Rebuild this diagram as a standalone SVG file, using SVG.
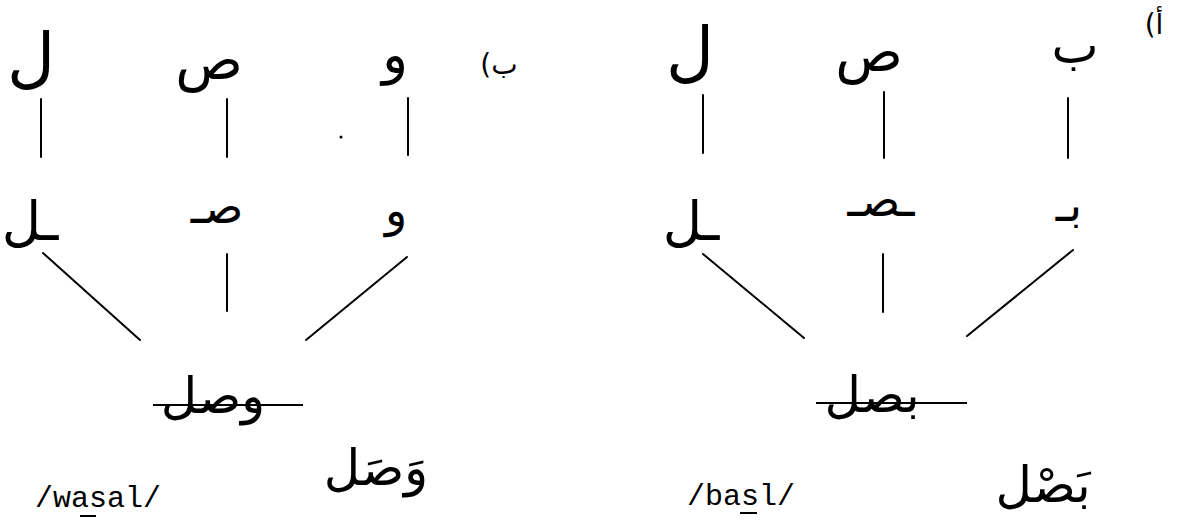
<svg xmlns="http://www.w3.org/2000/svg" width="1178" height="524" viewBox="0 0 1178 524">
<style>
.ar{font-family:"DejaVu Sans",sans-serif;fill:#000;text-anchor:middle}
.tl{font-size:66px}
.ts{font-size:56px}
.tw{font-size:54px}
.tb{font-size:50px}
.ml{font-size:54px}
.mid{font-size:46px}
.word{font-size:50px}
.lab{font-size:28px;direction:ltr;unicode-bidi:bidi-override}
.tr{font-family:"Liberation Mono","Courier New",monospace;font-size:30px;fill:#000}
.c line{stroke:#000;stroke-width:2;stroke-linecap:round}
.u{stroke:#000;stroke-width:2}
</style>
<rect width="1178" height="524" fill="#fff"/>
<g class="c" id="connectors">
<line x1="41" y1="99" x2="41" y2="157"/>
<line x1="227" y1="99" x2="227" y2="157"/>
<line x1="408" y1="98" x2="408" y2="155"/>
<line x1="43" y1="253" x2="140" y2="340"/>
<line x1="227" y1="254" x2="227" y2="311"/>
<line x1="407" y1="257" x2="306" y2="340"/>
<line x1="703" y1="95" x2="703" y2="153"/>
<line x1="884" y1="92" x2="884" y2="158"/>
<line x1="1068" y1="98" x2="1068" y2="158"/>
<line x1="703" y1="254" x2="804" y2="338"/>
<line x1="883" y1="254" x2="883" y2="312"/>
<line x1="1073" y1="250" x2="967" y2="336"/>
</g>
<circle cx="341" cy="137" r="1.5" fill="#000"/>
<g id="label-b"><text class="ar lab" x="499" y="74">(ب</text></g>
<g id="label-a"><text class="ar lab" x="1154" y="34">(أ</text></g>
<g id="b-top-l"><text class="ar tl" x="31" y="80">ل</text></g>
<g id="b-top-s"><text class="ar ts" x="209" y="79">ص</text></g>
<g id="b-top-w"><text class="ar tw" x="395" y="73">و</text></g>
<g id="b-mid-l"><text class="ar ml" x="30" y="240">ـل</text></g>
<g id="b-mid-s"><text class="ar mid" x="217" y="223">صـ</text></g>
<g id="b-mid-w"><text class="ar mid" x="396" y="226">و</text></g>
<g id="b-word"><text class="ar word" x="213" y="413">وصل</text><line class="u" x1="153" y1="405" x2="303" y2="405"/></g>
<g id="b-voc"><text class="ar word" x="376" y="485">وَصَل</text></g>
<g id="b-tr"><text class="tr" x="35" y="507">/wasal/</text><line class="u" x1="80" y1="516" x2="96" y2="516"/></g>
<g id="a-top-l"><text class="ar tl" x="690" y="74">ل</text></g>
<g id="a-top-s"><text class="ar ts" x="869" y="71">ص</text></g>
<g id="a-top-b"><text class="ar tb" x="1075" y="63">ب</text></g>
<g id="a-mid-l"><text class="ar ml" x="691" y="240">ـل</text></g>
<g id="a-mid-s"><text class="ar mid" x="881" y="216">ـصـ</text></g>
<g id="a-mid-b"><text class="ar mid" x="1069" y="221">بـ</text></g>
<g id="a-word"><text class="ar word" x="872" y="412">بصل</text><line class="u" x1="816" y1="403" x2="967" y2="403"/></g>
<g id="a-voc"><text class="ar word" x="1043" y="502">بَصْل</text></g>
<g id="a-tr"><text class="tr" x="687" y="505">/basl/</text><line class="u" x1="740" y1="513" x2="757" y2="513"/></g>
</svg>
